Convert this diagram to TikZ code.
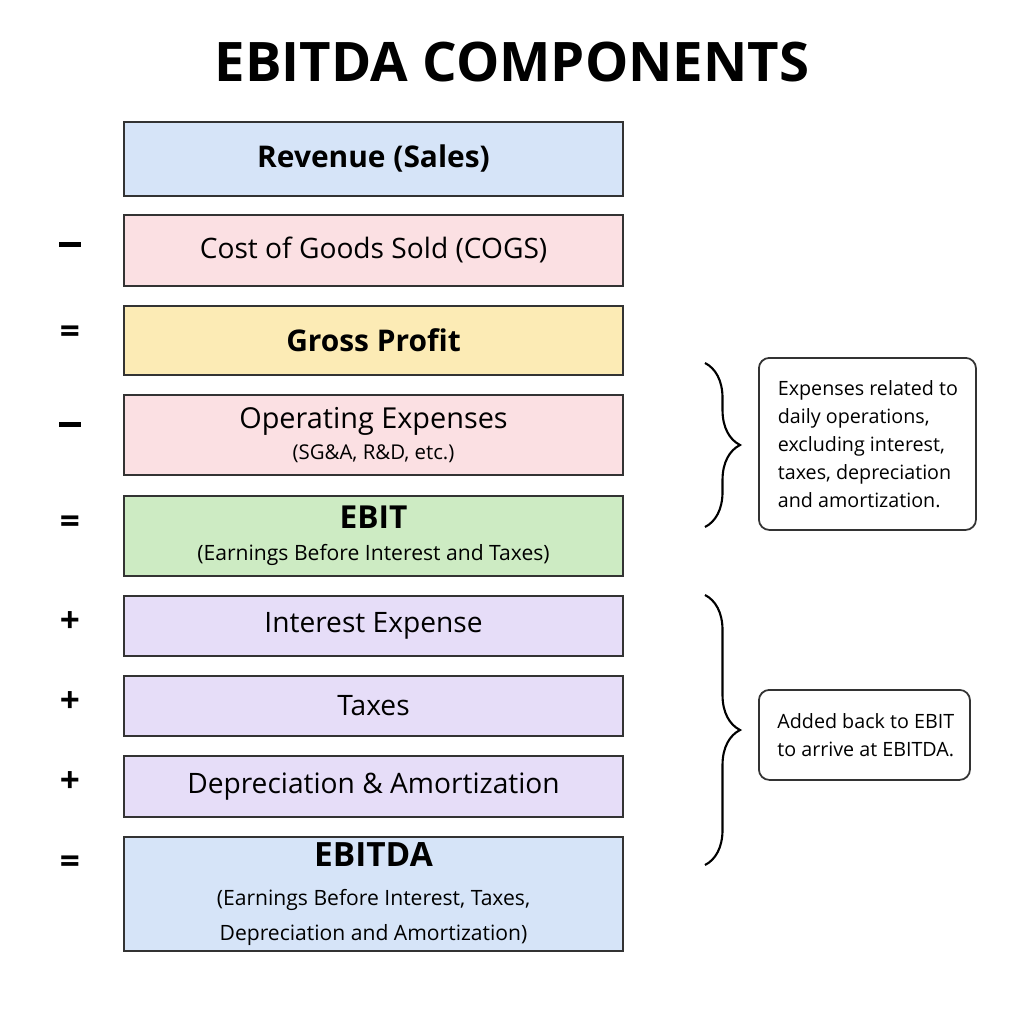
\documentclass[tikz,border=0pt]{standalone}
\usepackage{fontspec}
\setmainfont{Open Sans}
\usetikzlibrary{positioning, decorations.pathreplacing}
\definecolor{RowBlue}{HTML}{D6E4F8}
\definecolor{RowPink}{HTML}{FBE0E3}
\definecolor{RowGold}{HTML}{FCEBB5}
\definecolor{RowGreen}{HTML}{CDEBC3}
\definecolor{RowLilac}{HTML}{E6DDF8}
\newcommand{\minussign}{\rule[0.55ex]{0.62em}{1.3pt}}
\begin{document}
\begin{tikzpicture}[x=0.01cm, y=-0.01cm,
    row/.style={draw=black!80, line width=0.5pt, minimum width=4.99cm, anchor=north west, inner sep=0pt, align=center, font=\fontsize{8}{10}\selectfont},
    sign/.style={font=\fontsize{10}{12}\selectfont\bfseries},
    note/.style={draw=black!80, rounded corners=3pt, line width=0.5pt, anchor=north west, align=left, inner sep=0pt, font=\fontsize{5.6}{8}\selectfont},
    curly/.style={decorate, decoration={brace, amplitude=0.35cm}, line width=0.6pt}]
    \useasboundingbox (0,0) rectangle (1024,1024);

    % Title
    \node[font=\fontsize{15.5}{18}\selectfont\bfseries] (title) at (512,62) {EBITDA COMPONENTS};

    % Rows
    \node[row, fill=RowBlue, minimum height=0.74cm] (rev) at (123,121) {\fontsize{8.5}{10}\selectfont\bfseries Revenue (Sales)};
    \node[row, fill=RowPink, minimum height=0.71cm] (cogs) at (123,214) {Cost of Goods Sold (COGS)};
    \node[row, fill=RowGold, minimum height=0.69cm] (gross) at (123,305) {\fontsize{8.5}{10}\selectfont\bfseries Gross Profit};
    \node[row, fill=RowPink, minimum height=0.80cm] (opex) at (123,394) {\fontsize{8.2}{10}\selectfont Operating Expenses\\[-1pt]\fontsize{5.8}{8}\selectfont (SG\&A, R\&D, etc.)};
    \node[row, fill=RowGreen, minimum height=0.80cm] (ebit) at (123,495) {\fontsize{9}{11}\selectfont\bfseries EBIT\\[-1pt]\fontsize{6}{8}\selectfont (Earnings Before Interest and Taxes)};
    \node[row, fill=RowLilac, minimum height=0.60cm] (int) at (123,595) {Interest Expense};
    \node[row, fill=RowLilac, minimum height=0.60cm] (tax) at (123,675) {Taxes};
    \node[row, fill=RowLilac, minimum height=0.61cm] (da) at (123,755) {Depreciation \& Amortization};
    \node[row, fill=RowBlue, minimum height=1.14cm] (ebitda) at (123,836) {\fontsize{9.5}{11}\selectfont\bfseries EBITDA\\[1pt]\fontsize{6}{7.6}\selectfont (Earnings Before Interest, Taxes,\\\fontsize{6}{7.6}\selectfont Depreciation and Amortization)};

    % Signs
    \node[sign] (s1) at (70,250) {\minussign};
    \node[sign] (s2) at (70,335) {=};
    \node[sign] (s3) at (70,430) {\minussign};
    \node[sign] (s4) at (70,525) {=};
    \node[sign] (s5) at (70,622) {+};
    \node[sign] (s6) at (70,702) {+};
    \node[sign] (s7) at (70,782) {+};
    \node[sign] (s8) at (70,865) {=};

    % Braces
    \coordinate (b1top) at (705,363);
    \coordinate (b1bot) at (705,527);
    \coordinate (b2top) at (705,595);
    \coordinate (b2bot) at (705,865);
    \draw[curly] (b1top) -- (b1bot);
    \draw[curly] (b2top) -- (b2bot);

    % Notes
    \node[note, minimum width=2.17cm, minimum height=1.72cm] (n1) at (758,357) {\hspace*{0.16cm}\begin{minipage}{1.95cm}Expenses related to\\daily operations,\\excluding interest,\\taxes, depreciation\\and amortization.\end{minipage}};
    \node[note, minimum width=2.11cm, minimum height=0.90cm] (n2) at (758,689) {\hspace*{0.16cm}\begin{minipage}{1.9cm}Added back to EBIT\\to arrive at EBITDA.\end{minipage}};
\end{tikzpicture}
\end{document}
